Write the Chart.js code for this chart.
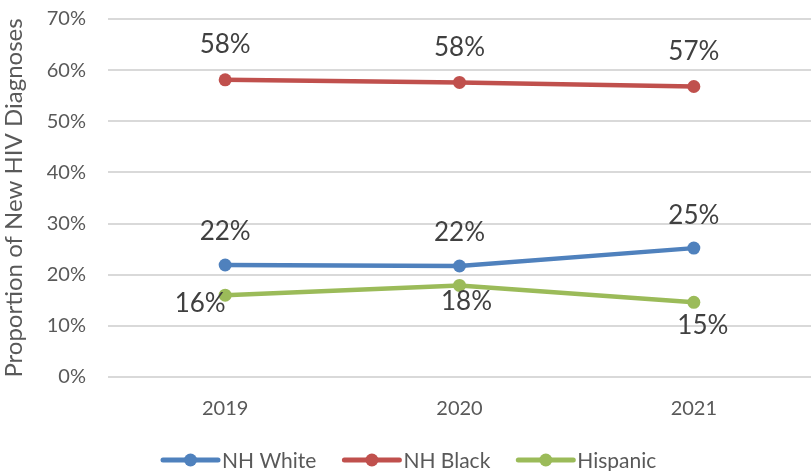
<!DOCTYPE html>
<html lang="en">
<head>
    <meta charset="UTF-8">
    <title>Proportion of New HIV Diagnoses</title>
    <script src="https://cdn.jsdelivr.net/npm/chart.js"></script>
    <style>
        html, body { margin: 0; padding: 0; background: #fff; }
        #wrap { width: 811px; height: 471px; }
    </style>
</head>
<body>
    <div id="wrap"><canvas id="chartCanvas" width="811" height="471"></canvas></div>

    <script>
        // Dados
        const years = ['2019', '2020', '2021'];
        const nhWhite = [21.9, 21.7, 25.2];
        const nhBlack = [58.1, 57.6, 56.8];
        const hispanic = [16.0, 17.9, 14.6];
        const seriesNames = ['NH White', 'NH Black', 'Hispanic'];
        const yTicks = [0, 10, 20, 30, 40, 50, 60, 70];

        const colors = ['#4F81BD', '#C0504D', '#9BBB59'];
        const font = "Lato, 'Open Sans', sans-serif";

        // deslocamento dos rótulos (x, y) em px, por série e ponto
        const labelOffsets = [
            [[0, -33], [0, -33], [0, -33]],
            [[0, -35], [0, -35], [0, -35]],
            [[-25, 8], [7, 16], [9, 23]]
        ];

        // rótulos de dados
        const dataLabels = {
            id: 'dataLabels',
            afterDatasetsDraw(chart) {
                const ctx = chart.ctx;
                ctx.save();
                ctx.font = '26px ' + font;
                ctx.fillStyle = '#404040';
                ctx.textAlign = 'center';
                ctx.textBaseline = 'middle';
                chart.data.datasets.forEach((ds, i) => {
                    chart.getDatasetMeta(i).data.forEach((pt, j) => {
                        const off = labelOffsets[i][j];
                        ctx.fillText(Math.round(ds.data[j]) + '%', pt.x + off[0], pt.y + off[1]);
                    });
                });
                ctx.restore();
            }
        };

        // legenda com linha + marcador
        const lineLegend = {
            id: 'lineLegend',
            afterDraw(chart) {
                const ctx = chart.ctx;
                ctx.save();
                ctx.font = '21px ' + font;
                ctx.textBaseline = 'middle';
                const lineW = 55, gap = 4, spacing = 28;
                let x = 163;
                const y = 460;
                seriesNames.forEach((name, i) => {
                    ctx.strokeStyle = colors[i];
                    ctx.lineWidth = 5;
                    ctx.lineCap = 'round';
                    ctx.beginPath();
                    ctx.moveTo(x, y);
                    ctx.lineTo(x + lineW, y);
                    ctx.stroke();
                    ctx.fillStyle = colors[i];
                    ctx.beginPath();
                    ctx.arc(x + lineW / 2, y, 6.5, 0, Math.PI * 2);
                    ctx.fill();
                    ctx.fillStyle = '#595959';
                    ctx.fillText(name, x + lineW + gap, y + 1);
                    x += lineW + gap + ctx.measureText(name).width + spacing;
                });
                ctx.restore();
            }
        };

        const makeSet = (label, data, i) => ({
            label: label,
            data: data,
            borderColor: colors[i],
            backgroundColor: colors[i],
            borderWidth: 4.5,
            pointRadius: 6.5,
            pointHoverRadius: 6.5,
            pointBorderWidth: 0,
            tension: 0
        });

        new Chart(document.getElementById('chartCanvas'), {
            type: 'line',
            data: {
                labels: years,
                datasets: [
                    makeSet(seriesNames[0], nhWhite, 0),
                    makeSet(seriesNames[1], nhBlack, 1),
                    makeSet(seriesNames[2], hispanic, 2)
                ]
            },
            options: {
                responsive: false,
                animation: false,
                layout: { autoPadding: false, padding: { top: 19, right: 0, left: 0, bottom: 0 } },
                plugins: {
                    legend: { display: false },
                    tooltip: { enabled: false }
                },
                scales: {
                    x: {
                        offset: true,
                        grid: { display: false, drawTicks: false },
                        border: { display: false },
                        ticks: { color: '#595959', font: { family: font, size: 20 }, padding: 20 },
                        afterFit(scale) {
                            scale.height = 94;
                            scale.paddingLeft = 0;
                            scale.paddingRight = 0;
                        }
                    },
                    y: {
                        min: 0,
                        max: 70,
                        afterBuildTicks(scale) { scale.ticks = yTicks.map(v => ({ value: v })); },
                        grid: { color: '#D9D9D9', lineWidth: 2, drawTicks: false },
                        border: { display: false },
                        ticks: {
                            color: '#595959',
                            font: { family: font, size: 20 },
                            padding: 22,
                            callback: v => v + '%'
                        },
                        title: {
                            display: true,
                            text: 'Proportion of New HIV Diagnoses',
                            color: '#595959',
                            font: { family: font, size: 24 },
                            padding: { top: 0, bottom: 3 }
                        },
                        afterFit(scale) {
                            scale.width = 108;
                            scale.paddingTop = 0;
                            scale.paddingBottom = 0;
                        }
                    }
                }
            },
            plugins: [dataLabels, lineLegend]
        });
    </script>
</body>
</html>
